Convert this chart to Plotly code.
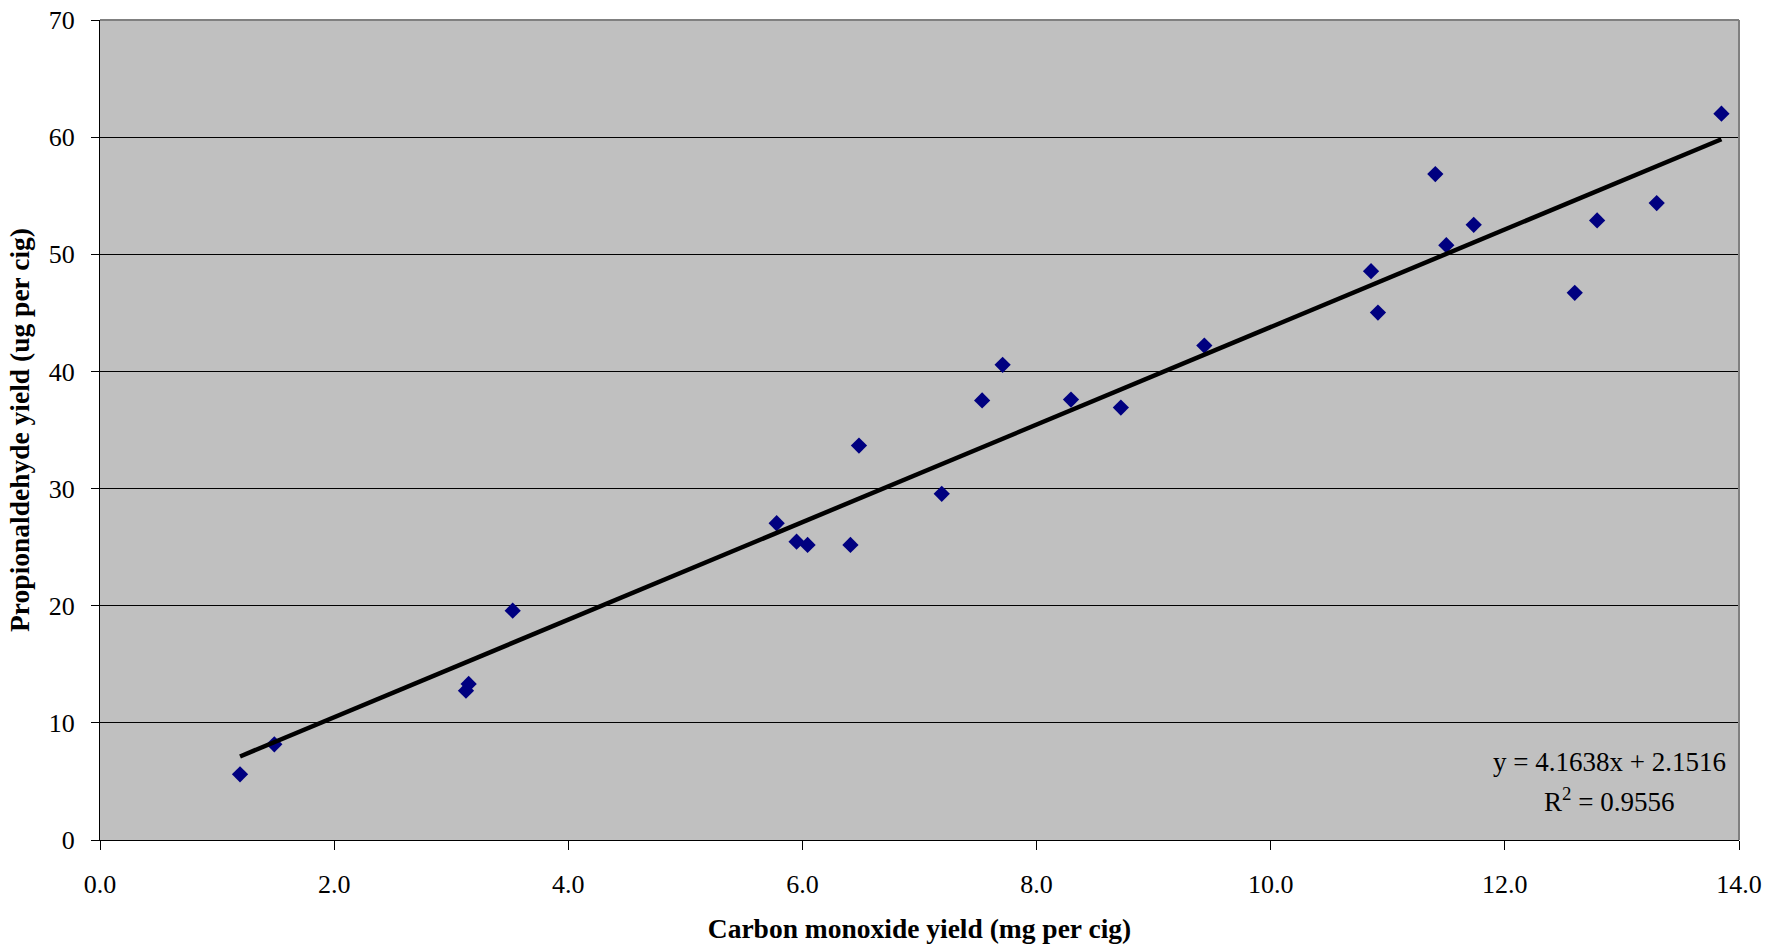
import plotly.graph_objects as go

# Data
co_yield = [1.196, 1.489, 3.126, 3.149, 3.525, 5.78, 5.95, 6.044, 6.41, 6.483,
            7.19, 7.535, 7.71, 8.294, 8.72, 9.433, 10.857, 10.916, 11.406, 11.50,
            11.734, 12.597, 12.788, 13.297, 13.85]
prop_yield = [5.61, 8.17, 12.75, 13.32, 19.58, 27.04, 25.47, 25.19, 25.19, 33.67,
              29.55, 37.52, 40.56, 37.6, 36.92, 42.21, 48.56, 45.03, 56.85, 50.78,
              52.52, 46.71, 52.89, 54.37, 62.0]

slope = 4.1638
intercept = 2.1516
r_squared = 0.9556

x_ticks = [0, 2, 4, 6, 8, 10, 12, 14]
y_ticks = [0, 10, 20, 30, 40, 50, 60, 70]

trend_x = [min(co_yield), max(co_yield)]
trend_y = [slope * v + intercept for v in trend_x]

FONT = "Liberation Serif, Times New Roman, serif"

fig = go.Figure()
fig.add_trace(go.Scatter(
    x=co_yield, y=prop_yield, mode="markers",
    marker=dict(symbol="diamond", size=12.5, color="#000080", line=dict(width=0)),
    showlegend=False, cliponaxis=False))
fig.add_trace(go.Scatter(
    x=trend_x, y=trend_y, mode="lines",
    line=dict(color="#000000", width=4.5), showlegend=False))

fig.update_layout(
    width=1769, height=944,
    margin=dict(l=100, r=30, t=20, b=104),
    paper_bgcolor="#FFFFFF", plot_bgcolor="#C0C0C0",
    font=dict(family=FONT, size=26, color="#000000"),
    xaxis=dict(range=[0, 14], tickvals=x_ticks,
               ticktext=[f"{v:.1f}" for v in x_ticks],
               showgrid=False, zeroline=False,
               showline=True, linecolor="#000000", linewidth=1,
               ticks="outside", ticklen=9, tickcolor="#000000", tickwidth=1,
               ticklabelstandoff=12,
               tickfont=dict(family=FONT, size=26),
               title=dict(text="<b>Carbon monoxide yield (mg per cig)</b>",
                          font=dict(family=FONT, size=27.5), standoff=21),
               automargin=False),
    yaxis=dict(range=[0, 70], tickvals=y_ticks,
               showgrid=True, gridcolor="#000000", gridwidth=1,
               zeroline=False,
               showline=True, linecolor="#000000", linewidth=1,
               ticks="outside", ticklen=8, tickcolor="#000000", tickwidth=1,
               ticklabelstandoff=11,
               tickfont=dict(family=FONT, size=26),
               title=dict(text="<b>Propionaldehyde yield (ug per cig)</b>",
                          font=dict(family=FONT, size=27.5), standoff=11),
               automargin=False),
    shapes=[
        dict(type="line", xref="paper", yref="paper", x0=0, x1=1, y0=1, y1=1,
             line=dict(color="#808080", width=2), layer="above"),
        dict(type="line", xref="paper", yref="paper", x0=1, x1=1, y0=0, y1=1,
             line=dict(color="#808080", width=2), layer="above"),
    ],
    annotations=[
        dict(xref="paper", yref="paper", x=0.9207, y=0.0955,
             text=f"y = {slope}x + {intercept}", showarrow=False,
             xanchor="center", yanchor="middle",
             font=dict(family=FONT, size=27)),
        dict(xref="paper", yref="paper", x=0.9207, y=0.0488,
             text=f"R<sup>2</sup> = {r_squared}", showarrow=False,
             xanchor="center", yanchor="middle",
             font=dict(family=FONT, size=27)),
    ],
)

fig.write_html("out.html")
